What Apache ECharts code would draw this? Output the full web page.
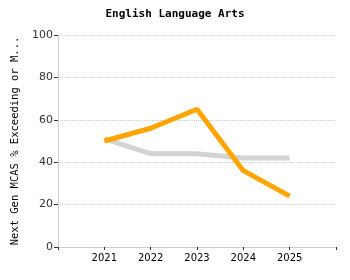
<!DOCTYPE html>
<html>
<head>
<meta charset="utf-8">
<script src="https://cdn.jsdelivr.net/npm/echarts@6/dist/echarts.min.js"></script>
<style>
  html, body { margin: 0; padding: 0; background: #fff; }
  #chart { width: 350px; height: 280px; }
</style>
</head>
<body>
<div id="chart"></div>
<script>
// data
var years = [2021, 2022, 2023, 2024, 2025];
var schoolVals = [50, 56, 65, 36, 24];   // orange line
var stateVals = [51, 44, 44, 42, 42];    // grey line
var yTicks = [0, 20, 40, 60, 80, 100];

function pairs(vals) {
  return years.map(function (y, i) { return [y, vals[i]]; });
}

var chart = echarts.init(document.getElementById('chart'));
chart.setOption({
  animation: false,
  title: {
    text: 'English Language Arts',
    left: 'center',
    top: 4,
    textStyle: { fontFamily: 'DejaVu Sans Mono', fontSize: 11, fontWeight: 'bold', color: '#000' }
  },
  grid: { left: 58, right: 14, top: 35, bottom: 33, outerBoundsMode: 'none', containLabel: false },
  xAxis: {
    type: 'value',
    min: 2020,
    max: 2026,
    interval: 1,
    axisLine: { lineStyle: { color: '#ccc' } },
    axisTick: { length: 3, lineStyle: { color: '#333' } },
    splitLine: { show: false },
    axisLabel: {
      fontFamily: 'DejaVu Sans', fontSize: 10, color: '#000', margin: 6,
      formatter: function (v) { return years.indexOf(v) >= 0 ? String(v) : ''; }
    }
  },
  yAxis: {
    type: 'value',
    min: yTicks[0],
    max: yTicks[yTicks.length - 1],
    interval: 20,
    name: 'Next Gen MCAS % Exceeding or M...',
    nameLocation: 'middle',
    nameRotate: 90,
    nameGap: 34,
    nameTextStyle: { fontFamily: 'DejaVu Sans Mono', fontSize: 10.5, color: '#000' },
    axisLine: { show: true, lineStyle: { color: '#ccc' } },
    axisTick: { show: true, length: 4, lineStyle: { color: '#333' } },
    axisLabel: { fontFamily: 'DejaVu Sans', fontSize: 11, color: '#333', margin: 5 },
    splitLine: { lineStyle: { color: '#ccc', type: 'dotted' } }
  },
  series: [
    {
      type: 'line', data: pairs(stateVals), showSymbol: false,
      lineStyle: { color: '#d3d3d3', width: 5 }, z: 2
    },
    {
      type: 'line', data: pairs(schoolVals), showSymbol: false,
      lineStyle: { color: '#ffa500', width: 5 }, z: 3
    }
  ]
});
</script>
</body>
</html>
